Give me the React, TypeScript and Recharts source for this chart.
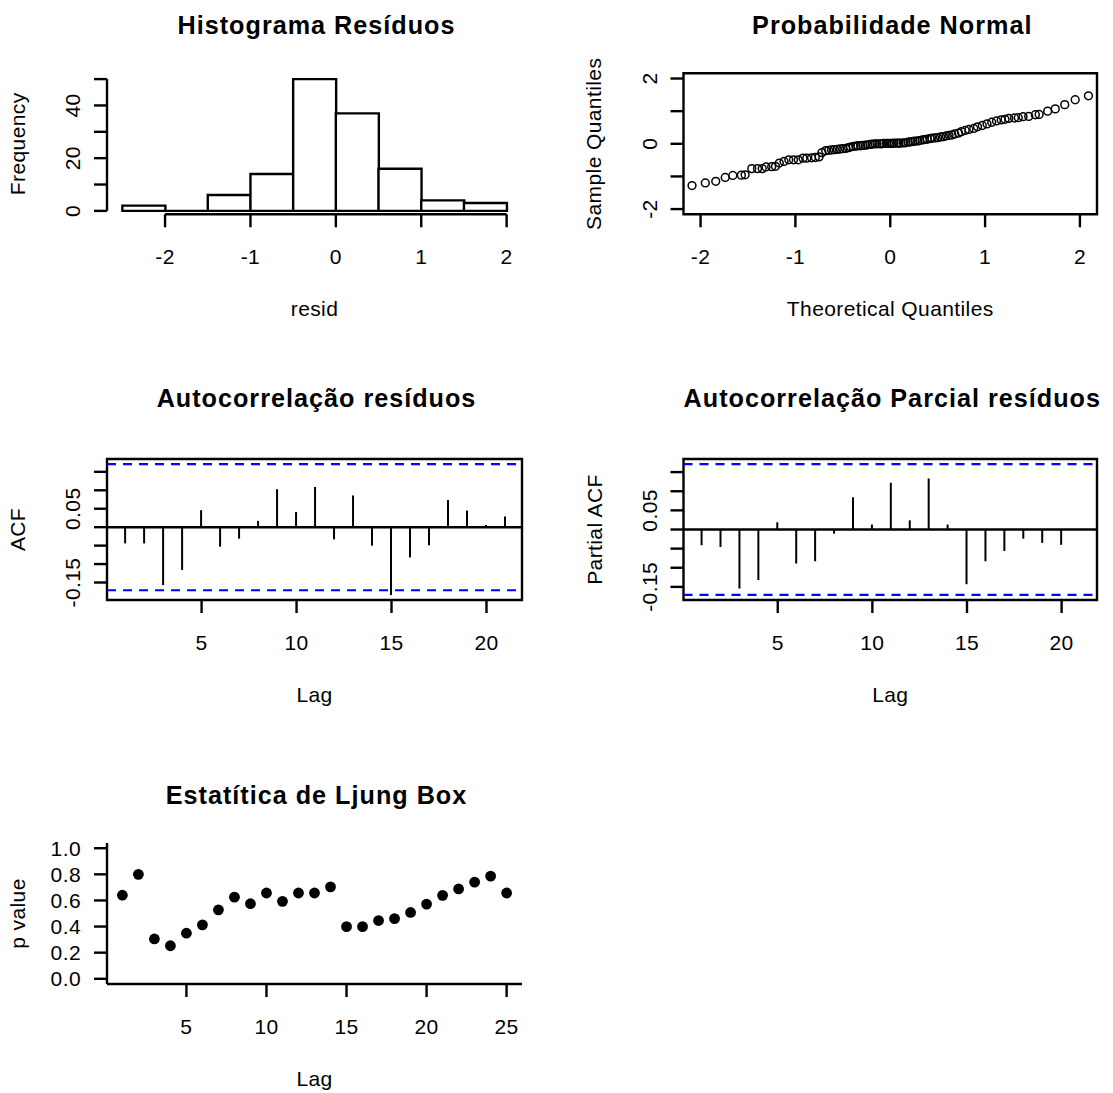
import React from 'react';
import {
  BarChart,
  Bar,
  ScatterChart,
  Scatter,
  XAxis,
  YAxis,
  ReferenceLine,
  ReferenceArea,
} from 'recharts';

const FONT = '"Liberation Sans", Arial, Helvetica, sans-serif';

// ---------- Histogram data ----------
const histBinCenters = [-2.25, -1.75, -1.25, -0.75, -0.25, 0.25, 0.75, 1.25, 1.75];
const histCounts = [2, 0, 6, 14, 50, 37, 16, 4, 3];
const histXTicks = [-2, -1, 0, 1, 2];
const histYTicks = [0, 10, 20, 30, 40, 50];
const histYLabels = [0, 20, 40];

// ---------- Normal QQ data ----------
const qqTheoretical = [
  -2.09, -1.95, -1.84, -1.74, -1.66, -1.57, -1.53, -1.46, -1.4, -1.35, -1.31, -1.25, -1.21,
  -1.17, -1.12, -1.07, -1.02, -0.97, -0.92, -0.88, -0.83, -0.79, -0.75, -0.72, -0.68, -0.65,
  -0.62, -0.59, -0.56, -0.53, -0.5, -0.47, -0.44, -0.42, -0.39, -0.36, -0.34, -0.31, -0.29,
  -0.26, -0.24, -0.21, -0.19, -0.16, -0.14, -0.11, -0.09, -0.07, -0.04, -0.02, 0.0, 0.02,
  0.04, 0.07, 0.09, 0.11, 0.14, 0.16, 0.19, 0.21, 0.24, 0.26, 0.29, 0.31, 0.34, 0.36, 0.39,
  0.42, 0.44, 0.47, 0.5, 0.53, 0.56, 0.59, 0.62, 0.65, 0.68, 0.72, 0.75, 0.79, 0.83, 0.88,
  0.92, 0.97, 1.02, 1.07, 1.12, 1.17, 1.21, 1.25, 1.31, 1.35, 1.4, 1.46, 1.53, 1.57, 1.66,
  1.74, 1.84, 1.95, 2.09,
];
const qqSample = [
  -1.28, -1.2, -1.15, -1.03, -0.97, -0.96, -0.95, -0.76, -0.76, -0.76, -0.71, -0.7, -0.69,
  -0.59, -0.54, -0.49, -0.49, -0.49, -0.44, -0.44, -0.43, -0.42, -0.4, -0.27, -0.21, -0.2,
  -0.19, -0.18, -0.17, -0.16, -0.15, -0.14, -0.12, -0.1, -0.08, -0.07, -0.06, -0.06, -0.05,
  -0.04, -0.03, -0.02, -0.01, 0.0, 0.0, 0.0, 0.0, 0.01, 0.01, 0.01, 0.01, 0.01, 0.02, 0.02,
  0.02, 0.02, 0.03, 0.03, 0.05, 0.06, 0.07, 0.08, 0.09, 0.1, 0.12, 0.13, 0.14, 0.16, 0.17,
  0.18, 0.19, 0.21, 0.22, 0.24, 0.26, 0.27, 0.3, 0.33, 0.37, 0.41, 0.44, 0.47, 0.52, 0.56,
  0.61, 0.66, 0.7, 0.73, 0.75, 0.78, 0.79, 0.8, 0.83, 0.84, 0.89, 0.9, 1.0, 1.07, 1.2, 1.35,
  1.47,
];
const qqTicks = [-2, -1, 0, 1, 2];
const qqYLabels = [-2, 0, 2];

// ---------- ACF / PACF data ----------
const acfLags = [1, 2, 3, 4, 5, 6, 7, 8, 9, 10, 11, 12, 13, 14, 15, 16, 17, 18, 19, 20, 21];
const acfValues = [
  -0.044, -0.044, -0.157, -0.116, 0.046, -0.053, -0.031, 0.017, 0.103, 0.041, 0.109, -0.033,
  0.086, -0.05, -0.184, -0.082, -0.049, 0.074, 0.045, 0.006, 0.029,
];
const pacfLags = [1, 2, 3, 4, 5, 6, 7, 8, 9, 10, 11, 12, 13, 14, 15, 16, 17, 18, 19, 20];
const pacfValues = [
  -0.041, -0.046, -0.154, -0.132, 0.019, -0.089, -0.083, -0.011, 0.084, 0.013, 0.122, 0.024,
  0.133, 0.013, -0.143, -0.083, -0.056, -0.024, -0.035, -0.04,
];
const acfConfLimit = 0.171;
const acfYTicks = [-0.15, -0.1, -0.05, 0, 0.05, 0.1, 0.15];
const acfYLabels = [-0.15, 0.05];
const lagTicks = [5, 10, 15, 20];

// ---------- Ljung-Box data ----------
const lbLags = [1, 2, 3, 4, 5, 6, 7, 8, 9, 10, 11, 12, 13, 14, 15, 16, 17, 18, 19, 20, 21, 22, 23, 24, 25];
const lbPValues = [
  0.64, 0.8, 0.305, 0.253, 0.349, 0.413, 0.528, 0.625, 0.575, 0.657, 0.593, 0.657, 0.657,
  0.704, 0.399, 0.399, 0.446, 0.461, 0.508, 0.572, 0.639, 0.688, 0.74, 0.786, 0.657,
];
const lbXTicks = [5, 10, 15, 20, 25];
const lbYTicks = [0, 0.2, 0.4, 0.6, 0.8, 1.0];

// ---------- built tables ----------
const histData = histBinCenters.map((mid, i) => ({ mid, count: histCounts[i] }));
const qqData = qqTheoretical.map((x, i) => ({ x, y: qqSample[i] }));
const acfData = acfLags.map((lag, i) => ({ lag, v: acfValues[i] }));
const pacfData = pacfLags.map((lag, i) => ({ lag, v: pacfValues[i] }));
const lbData = lbLags.map((lag, i) => ({ lag, p: lbPValues[i] }));

// ---------- layout / style ----------
const LW = 2.4;
const TICK = 13;
const PLOT_H = 141;
const COL = [
  { left: 0, width: 556, yAxisW: 107, mRight: 34 },
  { left: 556, width: 557, yAxisW: 127.5, mRight: 16 },
];
const ROW = [
  { top: 0, height: 280, mTop: 73.3 },
  { top: 380, height: 300, mTop: 79 },
  { top: 780, height: 300, mTop: 63 },
];
const HIST_XDOM: [number, number] = [-2.68, 2.18];
const HIST_YDOM: [number, number] = [-1.3, 52.2];
const QQ_XDOM: [number, number] = [-2.18, 2.18];
const QQ_YDOM: [number, number] = [-2.16, 2.16];
const LAG_XDOM: [number, number] = [0.02, 21.87];
const ACF_YDOM: [number, number] = [-0.1974, 0.1848];
const PACF_YDOM: [number, number] = [-0.1843, 0.1843];
const LB_XDOM: [number, number] = [0.04, 25.96];
const LB_YDOM: [number, number] = [-0.04, 1.04];

const fmtInt = (v: number) => String(v);
const fmt2 = (v: number) => v.toFixed(2);
const fmt1 = (v: number) => v.toFixed(1);

const textStyle: React.CSSProperties = { letterSpacing: '0.4px' };

const makeXTick = (fmt: (v: number) => string) => (p: any) => (
  <text
    x={p.x}
    y={p.y}
    dy="0.72em"
    textAnchor="middle"
    fontSize={21}
    fontFamily={FONT}
    fill="#000"
    style={textStyle}
  >
    {fmt(p.payload.value)}
  </text>
);

const makeRotYTick = (shown: number[], fmt: (v: number) => string) => (p: any) => {
  const v = p.payload.value;
  if (!shown.some((s) => Math.abs(s - v) < 1e-9)) return <g />;
  return (
    <text
      x={p.x}
      y={p.y}
      transform={`rotate(-90 ${p.x} ${p.y})`}
      textAnchor="middle"
      fontSize={21}
      fontFamily={FONT}
      fill="#000"
      style={textStyle}
    >
      {fmt(v)}
    </text>
  );
};

const makeHorzYTick = (fmt: (v: number) => string) => (p: any) => (
  <text
    x={p.x}
    y={p.y}
    dy="0.36em"
    textAnchor="end"
    fontSize={21}
    fontFamily={FONT}
    fill="#000"
    style={textStyle}
  >
    {fmt(p.payload.value)}
  </text>
);

const tickLineStyle = { stroke: '#000', strokeWidth: LW };

const HistRect = (p: any) => {
  const { x, y, width, height } = p;
  if (x == null || y == null) return <g />;
  const h = height || 0;
  return (
    <path
      d={`M${x},${y} h${width} v${h} h${-width} Z`}
      fill="#fff"
      stroke="#000"
      strokeWidth={LW}
    />
  );
};

const OpenCircle = (p: any) => (
  <circle cx={p.cx} cy={p.cy} r={3.9} fill="none" stroke="#000" strokeWidth={1.5} />
);
const FilledDot = (p: any) => <circle cx={p.cx} cy={p.cy} r={5.4} fill="#000" />;

function margins(c: number, r: number) {
  return { top: ROW[r].mTop, right: COL[c].mRight, bottom: 0, left: 0 };
}
function xAxisH(r: number) {
  return ROW[r].height - ROW[r].mTop - PLOT_H;
}

function Positioned({ c, r, children }: { c: number; r: number; children: React.ReactNode }) {
  return (
    <div style={{ position: 'absolute', left: COL[c].left, top: ROW[r].top }}>{children}</div>
  );
}

function HistChart() {
  return (
    <BarChart
      width={COL[0].width}
      height={ROW[0].height}
      data={histData}
      margin={margins(0, 0)}
      barCategoryGap={0}
      barGap={0}
    >
      <XAxis
        type="number"
        dataKey="mid"
        domain={HIST_XDOM}
        allowDataOverflow
        ticks={histXTicks}
        interval={0}
        axisLine={false}
        tickLine={tickLineStyle}
        tickSize={TICK}
        tickMargin={22}
        tick={makeXTick(fmtInt)}
        height={xAxisH(0)}
      />
      <YAxis
        type="number"
        domain={HIST_YDOM}
        allowDataOverflow
        ticks={histYTicks}
        interval={0}
        axisLine={false}
        tickLine={tickLineStyle}
        tickSize={TICK}
        tickMargin={13.7}
        tick={makeRotYTick(histYLabels, fmtInt)}
        width={COL[0].yAxisW}
      />
      <Bar dataKey="count" isAnimationActive={false} shape={HistRect} />
      <ReferenceLine
        segment={[
          { x: HIST_XDOM[0], y: histYTicks[0] },
          { x: HIST_XDOM[0], y: histYTicks[histYTicks.length - 1] },
        ]}
        stroke="#000"
        strokeWidth={LW}
        ifOverflow="visible"
      />
      <ReferenceLine
        segment={[
          { x: histXTicks[0], y: HIST_YDOM[0] },
          { x: histXTicks[histXTicks.length - 1], y: HIST_YDOM[0] },
        ]}
        stroke="#000"
        strokeWidth={LW}
        ifOverflow="visible"
      />
    </BarChart>
  );
}

function QQChart() {
  return (
    <ScatterChart width={COL[1].width} height={ROW[0].height} margin={margins(1, 0)}>
      <XAxis
        type="number"
        dataKey="x"
        domain={QQ_XDOM}
        allowDataOverflow
        ticks={qqTicks}
        interval={0}
        axisLine={false}
        tickLine={tickLineStyle}
        tickSize={TICK}
        tickMargin={22}
        tick={makeXTick(fmtInt)}
        height={xAxisH(0)}
      />
      <YAxis
        type="number"
        dataKey="y"
        domain={QQ_YDOM}
        allowDataOverflow
        ticks={qqTicks}
        interval={0}
        axisLine={false}
        tickLine={tickLineStyle}
        tickSize={TICK}
        tickMargin={13.7}
        tick={makeRotYTick(qqYLabels, fmtInt)}
        width={COL[1].yAxisW}
      />
      <Scatter data={qqData} isAnimationActive={false} shape={OpenCircle} />
      <ReferenceArea
        x1={QQ_XDOM[0]}
        x2={QQ_XDOM[1]}
        y1={QQ_YDOM[0]}
        y2={QQ_YDOM[1]}
        fill="none"
        stroke="#000"
        strokeWidth={LW}
        ifOverflow="visible"
      />
    </ScatterChart>
  );
}

function CorrChart({ c, data, ydom }: { c: number; data: any[]; ydom: [number, number] }) {
  return (
    <BarChart width={COL[c].width} height={ROW[1].height} data={data} margin={margins(c, 1)}>
      <XAxis
        type="number"
        dataKey="lag"
        domain={LAG_XDOM}
        allowDataOverflow
        ticks={lagTicks}
        interval={0}
        axisLine={false}
        tickLine={tickLineStyle}
        tickSize={TICK}
        tickMargin={22}
        tick={makeXTick(fmtInt)}
        height={xAxisH(1)}
      />
      <YAxis
        type="number"
        domain={ydom}
        allowDataOverflow
        ticks={acfYTicks}
        interval={0}
        axisLine={false}
        tickLine={tickLineStyle}
        tickSize={TICK}
        tickMargin={13.7}
        tick={makeRotYTick(acfYLabels, fmt2)}
        width={COL[c].yAxisW}
      />
      <Bar dataKey="v" fill="#000" barSize={2} isAnimationActive={false} />
      <ReferenceLine y={0} stroke="#000" strokeWidth={LW} />
      <ReferenceLine
        y={acfConfLimit}
        stroke="#0000FF"
        strokeWidth={2.2}
        strokeDasharray="9 7"
      />
      <ReferenceLine
        y={-acfConfLimit}
        stroke="#0000FF"
        strokeWidth={2.2}
        strokeDasharray="9 7"
      />
      <ReferenceArea
        x1={LAG_XDOM[0]}
        x2={LAG_XDOM[1]}
        y1={ydom[0]}
        y2={ydom[1]}
        fill="none"
        stroke="#000"
        strokeWidth={LW}
        ifOverflow="visible"
      />
    </BarChart>
  );
}

function LjungChart() {
  return (
    <ScatterChart width={COL[0].width} height={ROW[2].height} margin={margins(0, 2)}>
      <XAxis
        type="number"
        dataKey="lag"
        domain={LB_XDOM}
        allowDataOverflow
        ticks={lbXTicks}
        interval={0}
        axisLine={{ stroke: '#000', strokeWidth: LW }}
        tickLine={tickLineStyle}
        tickSize={TICK}
        tickMargin={22}
        tick={makeXTick(fmtInt)}
        height={xAxisH(2)}
      />
      <YAxis
        type="number"
        dataKey="p"
        domain={LB_YDOM}
        allowDataOverflow
        ticks={lbYTicks}
        interval={0}
        axisLine={{ stroke: '#000', strokeWidth: LW }}
        tickLine={tickLineStyle}
        tickSize={TICK}
        tickMargin={13}
        tick={makeHorzYTick(fmt1)}
        width={COL[0].yAxisW}
      />
      <Scatter data={lbData} isAnimationActive={false} shape={FilledDot} />
    </ScatterChart>
  );
}

// plot-area geometry for the text overlay
const plotLeft = (c: number) => COL[c].left + COL[c].yAxisW;
const plotRight = (c: number) => COL[c].left + COL[c].width - COL[c].mRight;
const plotCX = (c: number) => (plotLeft(c) + plotRight(c)) / 2;
const plotTop = (r: number) => ROW[r].top + ROW[r].mTop;
const plotBottom = (r: number) => plotTop(r) + PLOT_H;
const plotCY = (r: number) => plotTop(r) + PLOT_H / 2;

const titles = [
  { text: 'Histograma Resíduos', c: 0, y: 34 },
  { text: 'Probabilidade Normal', c: 1, y: 34 },
  { text: 'Autocorrelação resíduos', c: 0, y: 407 },
  { text: 'Autocorrelação Parcial resíduos', c: 1, y: 407 },
  { text: 'Estatítica de Ljung Box', c: 0, y: 804 },
];
const xTitles = [
  { text: 'resid', c: 0, r: 0 },
  { text: 'Theoretical Quantiles', c: 1, r: 0 },
  { text: 'Lag', c: 0, r: 1 },
  { text: 'Lag', c: 1, r: 1 },
  { text: 'Lag', c: 0, r: 2 },
];
const yTitles = [
  { text: 'Frequency', c: 0, r: 0 },
  { text: 'Sample Quantiles', c: 1, r: 0 },
  { text: 'ACF', c: 0, r: 1 },
  { text: 'Partial ACF', c: 1, r: 1 },
  { text: 'p value', c: 0, r: 2 },
];

function Overlay() {
  return (
    <svg
      width={1113}
      height={1093}
      style={{ position: 'absolute', left: 0, top: 0, pointerEvents: 'none' }}
    >
      {titles.map((t, i) => (
        <text
          key={'t' + i}
          x={plotCX(t.c) + 2}
          y={t.y}
          textAnchor="middle"
          fontSize={25.2}
          fontWeight="bold"
          fontFamily={FONT}
          fill="#000"
          style={{ letterSpacing: '1px' }}
        >
          {t.text}
        </text>
      ))}
      {xTitles.map((t, i) => (
        <text
          key={'x' + i}
          x={plotCX(t.c)}
          y={plotBottom(t.r) + 102}
          textAnchor="middle"
          fontSize={21}
          fontFamily={FONT}
          fill="#000"
          style={textStyle}
        >
          {t.text}
        </text>
      ))}
      {yTitles.map((t, i) => {
        const x = plotLeft(t.c) - 82;
        const y = plotCY(t.r);
        return (
          <text
            key={'y' + i}
            x={x}
            y={y}
            transform={`rotate(-90 ${x} ${y})`}
            textAnchor="middle"
            fontSize={21}
            fontFamily={FONT}
            fill="#000"
            style={textStyle}
          >
            {t.text}
          </text>
        );
      })}
    </svg>
  );
}

export default function App() {
  return (
    <div
      style={{
        position: 'absolute',
        left: 0,
        top: 0,
        width: 1113,
        height: 1093,
        background: '#fff',
        overflow: 'hidden',
      }}
    >
      <Positioned c={0} r={0}>
        <HistChart />
      </Positioned>
      <Positioned c={1} r={0}>
        <QQChart />
      </Positioned>
      <Positioned c={0} r={1}>
        <CorrChart c={0} data={acfData} ydom={ACF_YDOM} />
      </Positioned>
      <Positioned c={1} r={1}>
        <CorrChart c={1} data={pacfData} ydom={PACF_YDOM} />
      </Positioned>
      <Positioned c={0} r={2}>
        <LjungChart />
      </Positioned>
      <Overlay />
    </div>
  );
}
